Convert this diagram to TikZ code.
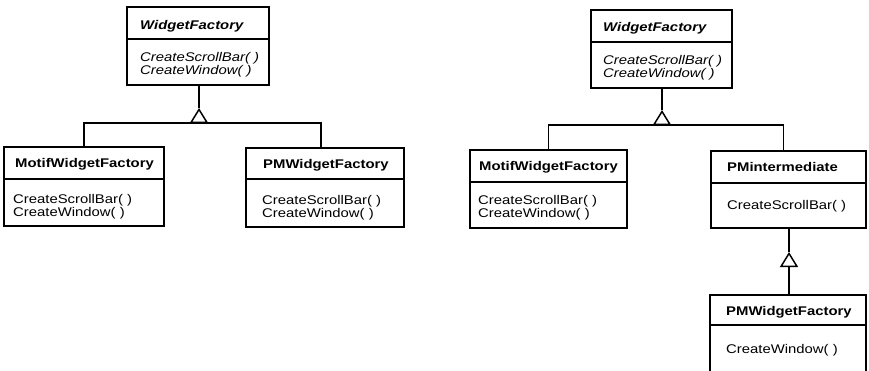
\documentclass[tikz,border=0pt]{standalone}
\usepackage{fontspec}
\setmainfont[FakeStretch=1.18]{Liberation Sans}
\usetikzlibrary{arrows.meta}
\newcommand\uisz{\fontsize{12.6}{13.3}\selectfont}
\tikzset{
  box/.style={draw, line width=1.6pt, anchor=north west, inner sep=0pt, outer sep=0pt},
  sep/.style={line width=1.2pt},
  conn/.style={line width=1.6pt},
  inh/.style={line width=1.6pt, -{Triangle[open, length=15pt, width=18pt, line width=1.5pt]}},
  ttl/.style={font=\uisz\bfseries, anchor=base west, inner sep=0pt},
  attl/.style={font=\uisz\bfseries\itshape, anchor=base west, inner sep=0pt},
  meth/.style={font=\uisz, anchor=base west, inner sep=0pt},
  ameth/.style={font=\uisz\itshape, anchor=base west, inner sep=0pt}
}
\begin{document}
\begin{tikzpicture}[x=1pt, y=-1pt]
\useasboundingbox (0,0) rectangle (869,370);
\clip (0,0) rectangle (869,370);
\fill[white] (0,0) rectangle (869,370);

% ---------------- left diagram ----------------
\node[box, minimum width=142pt, minimum height=78pt] (wf1) at (127,7) {};
\draw[sep] (127,39) -- (269,39);
\node[attl] (wf1t) at (140,29) {WidgetFactory};
\node[ameth] (wf1m1) at (140,61) {CreateScrollBar( )};
\node[ameth] (wf1m2) at (140,74) {CreateWindow( )};

\node[box, minimum width=160pt, minimum height=79pt] (mo1) at (4,147) {};
\draw[sep] (4,179) -- (164,179);
\node[ttl] (mo1t) at (15,167) {MotifWidgetFactory};
\node[meth] (mo1m1) at (13,203) {CreateScrollBar( )};
\node[meth] (mo1m2) at (13,216) {CreateWindow( )};

\node[box, minimum width=158pt, minimum height=79pt] (pm1) at (246,148) {};
\draw[sep] (246,179) -- (404,179);
\node[ttl] (pm1t) at (263,168) {PMWidgetFactory};
\node[meth] (pm1m1) at (262,204) {CreateScrollBar( )};
\node[meth] (pm1m2) at (262,217) {CreateWindow( )};

\coordinate (j1) at (199,123);
\coordinate (a1) at (199,108);
\draw[conn] (wf1.south -| a1) -- (a1);
\draw[inh] (j1) -- (a1);
\draw[conn] (mo1.north) |- (j1);
\draw[conn] (j1) -| ([xshift=-4pt]pm1.north);

% ---------------- right diagram ----------------
\node[box, minimum width=141pt, minimum height=78pt] (wf2) at (591,10) {};
\draw[sep] (591,42) -- (732,42);
\node[attl] (wf2t) at (603,31) {WidgetFactory};
\node[ameth] (wf2m1) at (603,64) {CreateScrollBar( )};
\node[ameth] (wf2m2) at (603,77) {CreateWindow( )};

\node[box, minimum width=157pt, minimum height=78pt] (mo2) at (470,150) {};
\draw[sep] (470,182) -- (627,182);
\node[ttl] (mo2t) at (479,170) {MotifWidgetFactory};
\node[meth] (mo2m1) at (478,204) {CreateScrollBar( )};
\node[meth] (mo2m2) at (478,217) {CreateWindow( )};

\node[box, minimum width=155pt, minimum height=77pt] (pmi) at (711,151) {};
\draw[sep] (711,183) -- (866,183);
\node[ttl] (pmit) at (727,171) {PMintermediate};
\node[meth] (pmim1) at (727,209) {CreateScrollBar( )};

\node[box, minimum width=156pt, minimum height=95pt] (pm2) at (710,295) {};
\draw[sep] (710,325) -- (866,325);
\node[ttl] (pm2t) at (726,315) {PMWidgetFactory};
\node[meth] (pm2m1) at (726,353) {CreateWindow( )};

\coordinate (j2) at (662,125);
\coordinate (a2) at (662,110);
\draw[conn] (wf2.south -| a2) -- (a2);
\draw[inh] (j2) -- (a2);
\draw[conn] (mo2.north) |- (j2);
\draw[conn] (j2) -| ([xshift=-5pt]pmi.north);

\coordinate (a3) at (789,252);
\draw[conn] (pmi.south -| a3) -- (a3);
\draw[inh] (pm2.north -| a3) -- (a3);
\end{tikzpicture}
\end{document}
